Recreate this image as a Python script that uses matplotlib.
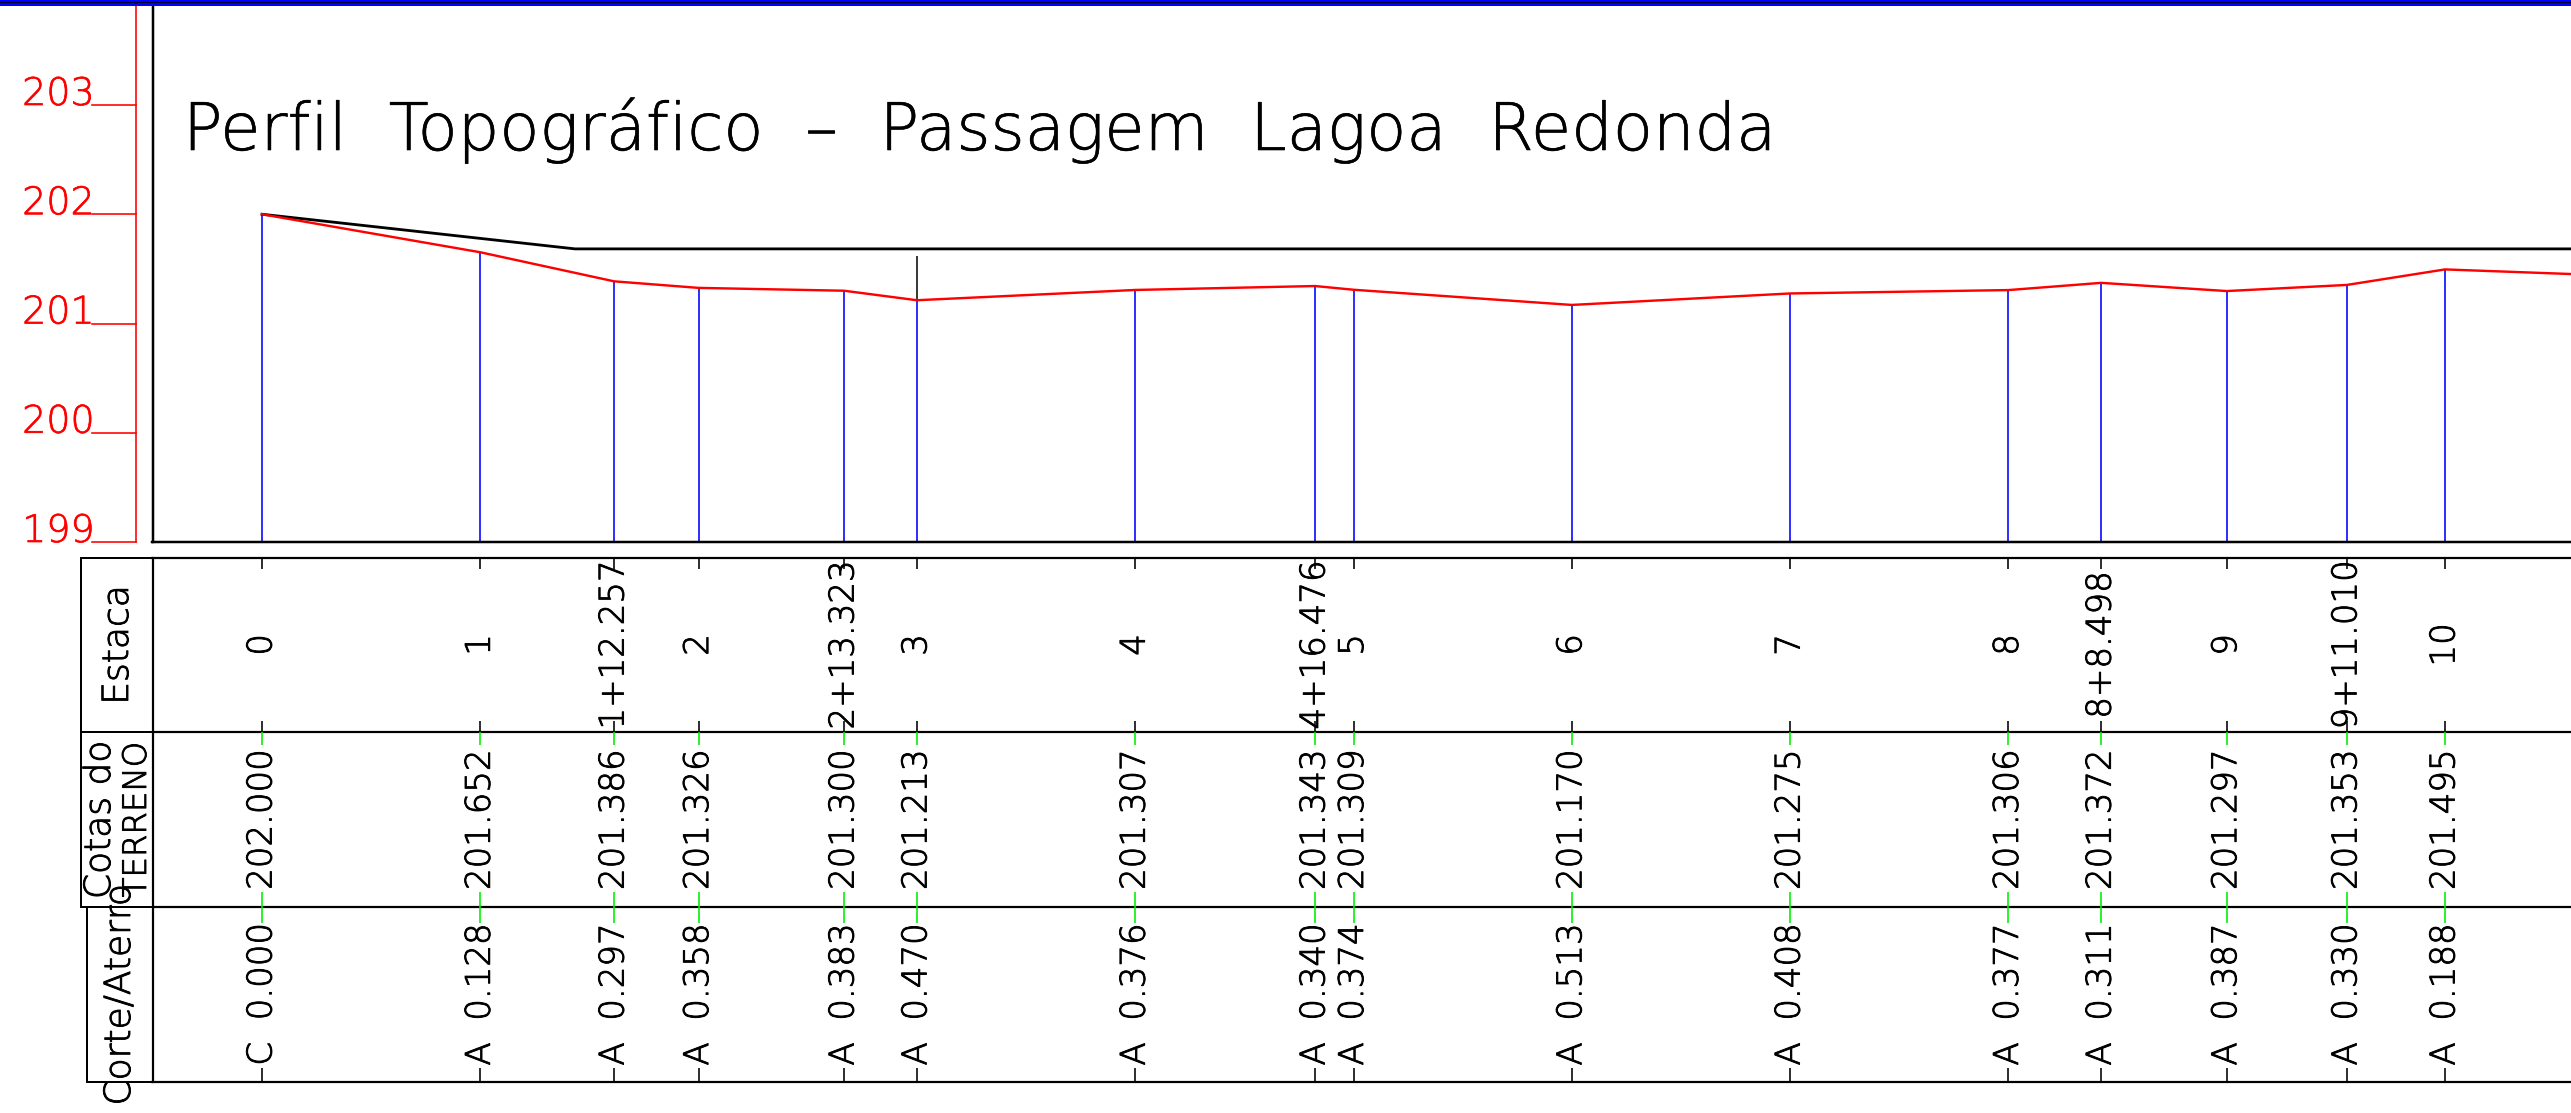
import matplotlib
matplotlib.use("Agg")
import matplotlib.pyplot as plt
import matplotlib.transforms as mtransforms
import matplotlib.patheffects as pe
from matplotlib.patches import Rectangle
from matplotlib.lines import Line2D

# ---------------- data ----------------
station_labels = ["0", "1", "1+12.257", "2", "2+13.323", "3", "4", "4+16.476", "5",
                  "6", "7", "8", "8+8.498", "9", "9+11.010", "10", "11"]
station_dist = [0, 20, 32.257, 40, 53.323, 60, 80, 96.476, 100,
                120, 140, 160, 168.498, 180, 191.010, 200, 220]
terrain_elev = [202.000, 201.652, 201.386, 201.326, 201.300, 201.213, 201.307, 201.343, 201.309,
                201.170, 201.275, 201.306, 201.372, 201.297, 201.353, 201.495, 201.422]
cut_fill_type = ["C", "A", "A", "A", "A", "A", "A", "A", "A", "A", "A", "A", "A", "A", "A", "A", "A"]
cut_fill_value = [0.000, 0.128, 0.297, 0.358, 0.383, 0.470, 0.376, 0.340, 0.374,
                  0.513, 0.408, 0.377, 0.311, 0.387, 0.330, 0.188, 0.261]
grade_dist = [0, 28.68, 220]
grade_elev = [202.000, 201.683, 201.683]
marker_dist = [60]
marker_top = [201.611]
elev_ticks = [199, 200, 201, 202, 203]
title_text = "Perfil  Topográfico  –  Passagem  Lagoa  Redonda"
row_estaca = "Estaca"
row_cotas = ["Cotas do", "TERRENO"]
row_corte = "Corte/Aterro"

# ---------------- layout (pixels) ----------------
W, H = 2571, 1113
DPI = 100
FRAME_L = 152.5
BASE_Y = 542.0
TOP_Y = 6.0
X0_PX = 262.0
PX_PER_M = 10.915
PX_PER_ELEV = 109.25
TAB_TOP = 557.5
TAB_BOT = 1082.0
PT = 72.0 / DPI  # points per pixel

RED = "#ff0000"
BLUE = "#0000ff"
GREEN = "#00ee00"
FONT = dict(family=["DejaVu Sans"], fontweight=200)


def pen(color="black", px=0.9):
    return [pe.withStroke(linewidth=px * PT, foreground=color)]


fig = plt.figure(figsize=(W / DPI, H / DPI), dpi=DPI, facecolor="white")

# ---- main profile axes ----
ax = fig.add_axes([FRAME_L / W, (H - BASE_Y) / H, (W - FRAME_L) / W, (BASE_Y - TOP_Y) / H])
xlim = ((FRAME_L - X0_PX) / PX_PER_M, (W - X0_PX) / PX_PER_M)
ax.set_xlim(*xlim)
ymin = min(elev_ticks)
ax.set_ylim(ymin, ymin + (BASE_Y - TOP_Y) / PX_PER_ELEV)
ax.set_xticks([])
ax.set_yticks([])
for s in ("top", "right"):
    ax.spines[s].set_visible(False)
for s in ("left", "bottom"):
    ax.spines[s].set_linewidth(2.5 * PT)
    ax.spines[s].set_color("black")
ax.set_facecolor("none")

# blue verticals
ax.vlines(station_dist, ymin, terrain_elev, colors=BLUE, linewidth=1.6 * PT, zorder=2)
# black marker line
elev_at = dict(zip(station_dist, terrain_elev))
for d, top in zip(marker_dist, marker_top):
    ax.plot([d, d], [elev_at[d], top], color="#3a3a3a", linewidth=2.0 * PT, zorder=2)
# grade line
ax.plot(grade_dist, grade_elev, color="black", linewidth=2.8 * PT, zorder=3)
# terrain line
ax.plot(station_dist, terrain_elev, color=RED, linewidth=2.4 * PT, zorder=4)

# red elevation scale
blend = mtransforms.blended_transform_factory(ax.transAxes, ax.transData)
red_x = (136.0 - FRAME_L) / (W - FRAME_L)
tick_x = (92.0 - FRAME_L) / (W - FRAME_L)
ax.plot([red_x, red_x], [ymin, ax.get_ylim()[1]], transform=blend, color=RED,
        linewidth=1.6 * PT, clip_on=False)
for v in elev_ticks:
    ax.plot([tick_x, red_x], [v, v], transform=blend, color=RED, linewidth=1.6 * PT, clip_on=False)
    ax.text(tick_x + 2.5 / (W - FRAME_L), v, f"{v}", transform=blend, color=RED, ha="right",
            va="baseline", fontsize=38 * PT, clip_on=False, path_effects=pen(RED, 0.7), **FONT)

# title
t = ax.text((183.0 - FRAME_L) / (W - FRAME_L), (BASE_Y - 150.0) / (BASE_Y - TOP_Y), title_text,
            transform=ax.transAxes, ha="left", va="baseline", fontsize=44,
            color="black", path_effects=pen("black", 0.6), **FONT)

# ---- table axes ----
axt = fig.add_axes([FRAME_L / W, (H - TAB_BOT) / H, (W - FRAME_L) / W, (TAB_BOT - TAB_TOP) / H],
                   sharex=ax)
axt.set_ylim(0, 3)
axt.set_yticks([])
axt.set_facecolor("none")
axt.spines["right"].set_visible(False)
for s in ("left", "top", "bottom"):
    axt.spines[s].set_linewidth(2.2 * PT)
axt.axhline(1, color="black", linewidth=2.2 * PT)
axt.axhline(2, color="black", linewidth=2.2 * PT)

tb = mtransforms.blended_transform_factory(axt.transAxes, axt.transData)
box1_x = (81.0 - FRAME_L) / (W - FRAME_L)
box2_x = (87.3 - FRAME_L) / (W - FRAME_L)
lw_box = 2.0 * PT
for xs, ys in [([box1_x, 0], [3, 3]), ([box1_x, 0], [2, 2]), ([box1_x, 0], [1, 1]),
               ([box1_x, box1_x], [1, 3]), ([box2_x, box2_x], [0, 1]), ([box2_x, 0], [0, 0])]:
    axt.add_line(Line2D(xs, ys, transform=tb, color="black", linewidth=lw_box, clip_on=False))

row_px = (TAB_BOT - TAB_TOP) / 3.0
def rl(px):
    return px / row_px

tick_specs = [
    (3 - rl(11.7), 3, "black"),
    (2, 2 + rl(11.0), "black"),
    (2 - rl(12.5), 2, GREEN),
    (1, 1 + rl(15.5), GREEN),
    (1 - rl(15.5), 1, GREEN),
    (0, rl(14.0), "black"),
]
for y0, y1, c in tick_specs:
    axt.vlines(station_dist, y0, y1, colors=c, linewidth=1.6 * PT)

fs_tab = 34 * PT
for d, lab, e, ct, cv in zip(station_dist, station_labels, terrain_elev, cut_fill_type, cut_fill_value):
    if not (xlim[0] <= d <= xlim[1]):
        continue  # station lies beyond the visible sheet
    kw = dict(rotation=90, ha="center", va="center", fontsize=fs_tab, path_effects=pen(), **FONT)
    axt.text(d, 2.5, lab, **kw)
    axt.text(d, 1.5, f"{e:.3f}", **kw)
    axt.text(d, 0.5, f"{ct}  {cv:.3f}", **kw)

fs_lab = 36 * PT
def fx(px):
    return (px - FRAME_L) / (W - FRAME_L)
lab_kw = dict(transform=tb, rotation=90, ha="center", va="center", clip_on=False,
              path_effects=pen(), **FONT)
axt.text(fx(118), 2.5, row_estaca, fontsize=fs_lab, **lab_kw)
axt.text(fx(100), 1.5, row_cotas[0], fontsize=fs_lab, **lab_kw)
axt.text(fx(137), 1.5, row_cotas[1], fontsize=fs_lab * 0.9, **lab_kw)
axt.text(fx(120), 0.5, row_corte, fontsize=fs_lab, **lab_kw)

# top blue band
fig.add_artist(Rectangle((0, 1 - TOP_Y / H), 1, TOP_Y / H, transform=fig.transFigure,
                         facecolor=BLUE, edgecolor="none", zorder=10))
fig.add_artist(Line2D([0, 1], [1 - 1.5 / H, 1 - 1.5 / H], transform=fig.transFigure,
                      color="#000033", linewidth=1.2 * PT, zorder=11))

# fit title width
fig.canvas.draw()
bb = t.get_window_extent()
target_w = 1776.0 - 183.0
t.set_fontsize(t.get_fontsize() * target_w / bb.width)

fig.savefig("out.png", dpi=DPI, facecolor="white")
